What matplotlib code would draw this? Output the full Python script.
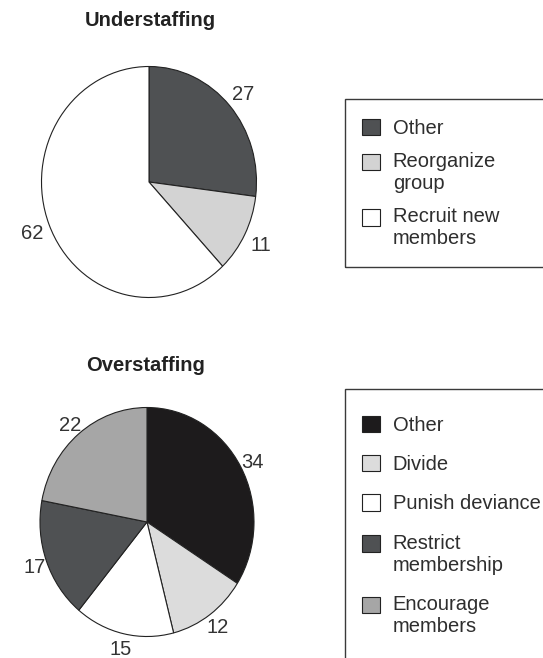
import matplotlib.pyplot as plt
from matplotlib.legend_handler import HandlerPatch
from matplotlib.patches import Rectangle

plt.rcParams['font.family'] = ['Liberation Sans', 'DejaVu Sans']

############## Daten ##############
under_title = "Understaffing"
under_labels = ["Other", "Reorganize\ngroup", "Recruit new\nmembers"]
under_values = [27, 11, 62]
under_colors = ["#4f5153", "#d3d3d3", "#ffffff"]

over_title = "Overstaffing"
over_labels = ["Other", "Divide", "Punish deviance", "Restrict\nmembership", "Encourage\nmembers"]
over_values = [34, 12, 15, 17, 22]
over_colors = ["#1d1b1c", "#dcdcdc", "#ffffff", "#4f5153", "#a6a6a6"]

############## Layout (Pixel) ##############
W, H = 543, 658
FS = 14.5


class FirstLineHandler(HandlerPatch):
    """Legend square aligned to the first line of a multi-line label."""
    def __init__(self, nlines):
        super().__init__()
        self.nlines = nlines

    def create_artists(self, legend, orig_handle, xdescent, ydescent,
                       width, height, fontsize, trans):
        shift = (self.nlines - 1) * 0.5 * 1.085 * fontsize
        return super().create_artists(legend, orig_handle, xdescent, ydescent - shift,
                                      width, height, fontsize, trans)


def fx(x):
    return x / W


def fy(y):
    return 1 - y / H


def panel(pie_box, values, colors, labels, title, title_pos, frame_box, leg_pos,
          spacing, ldist):
    l, t, r, b = pie_box
    ax = fig.add_axes([fx(l), fy(b), (r - l) / W, (b - t) / H])
    wedges, _ = ax.pie(values, colors=colors, labels=[str(v) for v in values],
                       startangle=90, counterclock=False, labeldistance=ldist,
                       wedgeprops=dict(edgecolor="#222222", linewidth=0.8),
                       textprops=dict(fontsize=FS, color="#333333",
                                      ha="center", va="center_baseline"))
    ax.set_aspect("auto")
    ax.set_xlim(-1, 1)
    ax.set_ylim(-1, 1)

    fig.text(fx(title_pos[0]), fy(title_pos[1]), title, ha="center", va="baseline",
             fontsize=FS, fontweight="bold", color="#222222")

    fl, ft, fr, fb = frame_box
    fig.add_artist(Rectangle((fx(fl), fy(fb)), (fr - fl) / W, (fb - ft) / H,
                             transform=fig.transFigure, fill=False,
                             edgecolor="#3a3a3a", linewidth=1.0))

    fig.legend(wedges, labels, loc="upper left",
               bbox_to_anchor=(fx(leg_pos[0]), fy(leg_pos[1])),
               frameon=False, borderpad=0, borderaxespad=0,
               handlelength=0.88, handleheight=0.88, handletextpad=0.65,
               labelspacing=spacing, prop={"size": FS}, labelcolor="#2e2e2e",
               handler_map={w: FirstLineHandler(lab.count("\n") + 1)
                            for w, lab in zip(wedges, labels)})


fig = plt.figure(figsize=(W / 100, H / 100), dpi=100)

panel((41.5, 66.5, 256.5, 297.5), under_values, under_colors, under_labels,
      under_title, (150, 26), (345, 99, 560, 267), (362, 118.6), 0.71, 1.17)

panel((40, 407.5, 254, 636.5), over_values, over_colors, over_labels,
      over_title, (145.5, 371), (345, 389, 560, 670), (362, 415.6), 1.0, 1.12)

fig.savefig("out.png", dpi=100)
